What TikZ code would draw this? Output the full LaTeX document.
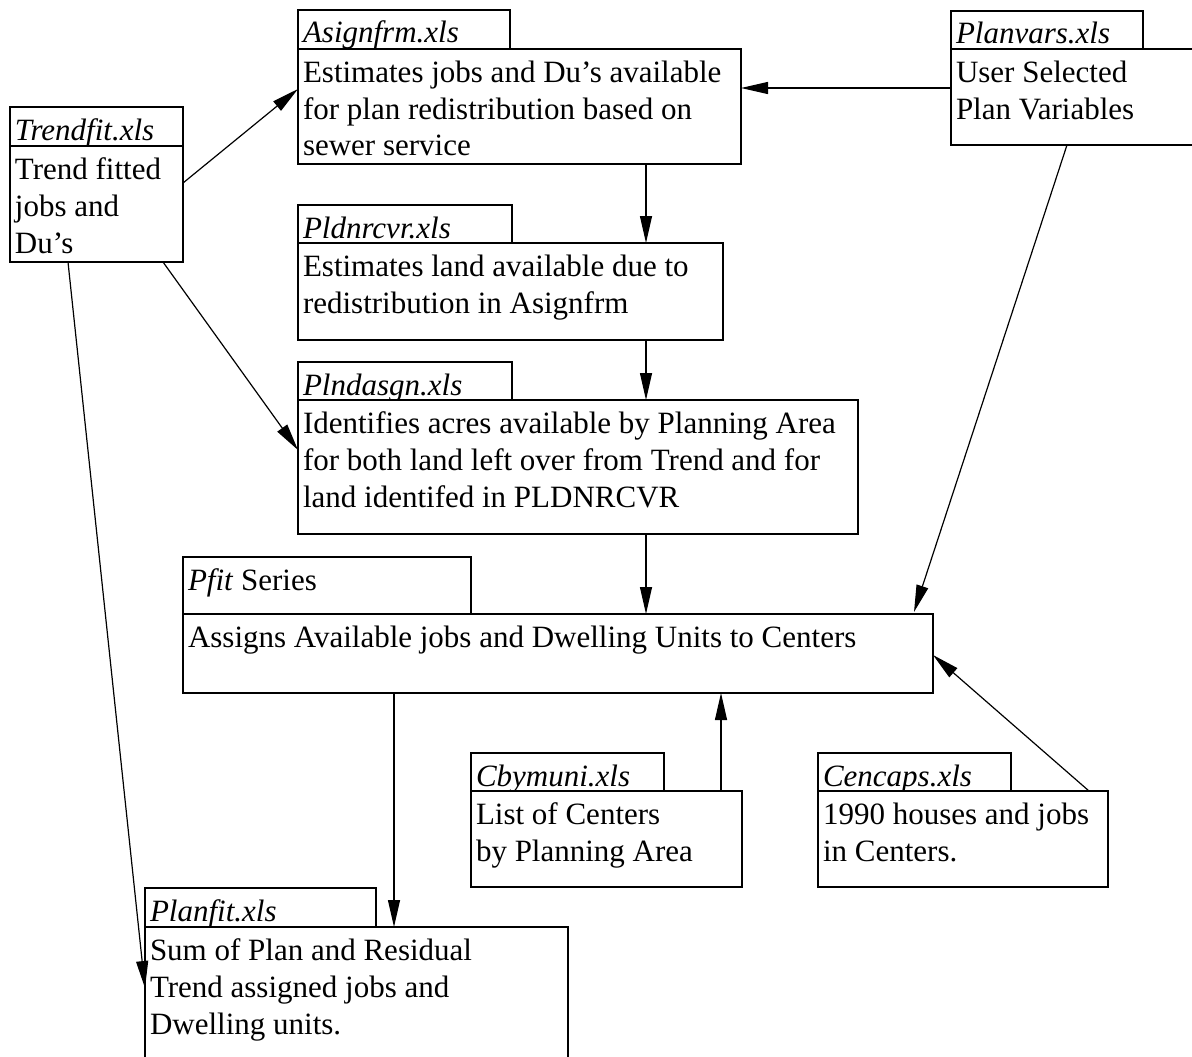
\documentclass[tikz,border=0pt]{standalone}
\usepackage{fontspec}
\setmainfont{Liberation Serif}
\usetikzlibrary{arrows.meta}
\usetikzlibrary{calc}
\tikzstyle{line} = [draw,
-{Triangle[length=27pt,width=12pt]},
line width=1.2pt]
\newcommand{\boxtext}[4][33pt]{\parbox[c][#3][t]{#2}{\raggedright\rule{0pt}{#1}#4}}

\begin{document}
\begin{tikzpicture}[x=1pt, y=-1pt,
		every node/.style={font=\fontsize{31}{37}\selectfont},
		tab/.style={draw, line width=1.2pt, anchor=north west,
			inner xsep=5pt, inner ysep=0pt, outer sep=0pt},
		body/.style={tab, fill=white}]
		\useasboundingbox (0,0) rectangle (1192,1057);
		%% Files
		\node [tab] (trendtab) at (10,107) {\boxtext{163pt}{39pt}{\textit{Trendfit.xls}}};
		\node [body] (trend) at (trendtab.south west) {\boxtext{163pt}{116pt}{Trend fitted\\jobs and\\Du's}};
		\node [tab] (asgntab) at (298,10) {\boxtext{202pt}{39pt}{\textit{Asignfrm.xls}}};
		\node [body] (asgn) at (asgntab.south west) {\boxtext{433pt}{115pt}{Estimates jobs and Du's available\\for plan redistribution based on\\sewer service}};
		\node [tab] (pvarstab) at (951,11) {\boxtext{182pt}{38pt}{\textit{Planvars.xls}}};
		\node [body] (pvars) at (pvarstab.south west) {\boxtext{239pt}{96pt}{User Selected\\Plan Variables}};
		\node [tab] (pldntab) at (298,205) {\boxtext{204pt}{38pt}{\textit{Pldnrcvr.xls}}};
		\node [body] (pldn) at (pldntab.south west) {\boxtext{415pt}{97pt}{Estimates land available due to\\redistribution in Asignfrm}};
		\node [tab] (plndtab) at (298,362) {\boxtext{204pt}{38pt}{\textit{Plndasgn.xls}}};
		\node [body] (plnd) at (plndtab.south west) {\boxtext{550pt}{134pt}{Identifies acres available by Planning Area\\for both land left over from Trend and for\\land identifed in PLDNRCVR}};
		\node [tab] (pfittab) at (183,557) {\boxtext{278pt}{57pt}{\textit{Pfit} Series}};
		\node [body] (pfit) at (pfittab.south west) {\boxtext{740pt}{79pt}{Assigns Available jobs and Dwelling Units to Centers}};
		\node [tab] (cbytab) at (471,753) {\boxtext{183pt}{38pt}{\textit{Cbymuni.xls}}};
		\node [body] (cby) at (cbytab.south west) {\boxtext{261pt}{96pt}{List of Centers\\by Planning Area}};
		\node [tab] (cenctab) at (818,753) {\boxtext{183pt}{38pt}{\textit{Cencaps.xls}}};
		\node [body] (cenc) at (cenctab.south west) {\boxtext{280pt}{96pt}{1990 houses and jobs\\in Centers.}};
		\node [tab] (planfittab) at (145,888) {\boxtext{221pt}{39pt}{\textit{Planfit.xls}}};
		\node [body] (planfit) at (planfittab.south west) {\boxtext{413pt}{150pt}{Sum of Plan and Residual\\Trend assigned jobs and\\Dwelling units.}};
		%% Flows
		\path [line] ($(trend.north east)+(0,37)$) to ($(asgn.north west)+(0,40)$);
		\path [line] ($(pvars.north west)+(0,39)$) to ($(asgn.north east)+(0,39)$);
		\path [line] ($(asgn.south west)+(348,0)$) to ($(pldn.north west)+(348,0)$);
		\path [line] ($(pldn.south west)+(348,0)$) to ($(plnd.north west)+(348,0)$);
		\path [line] ($(trend.south west)+(153,0)$) to ($(plnd.north west)+(0,50)$);
		\path [line] ($(trend.south west)+(58,0)$) to ($(planfit.north west)+(0,61)$);
		\path [line] ($(plnd.south west)+(348,0)$) to ($(pfit.north west)+(463,0)$);
		\path [line] ($(pvars.south west)+(116,0)$) to ($(pfit.north west)+(731,-2)$);
		\path [line] ($(cenc.north west)+(271,0)$) to ($(pfit.north east)+(0,41)$);
		\path [line] ($(cby.north west)+(250,0)$) to ($(pfit.south west)+(538,0)$);
		\path [line] ($(pfit.south west)+(211,0)$) to ($(planfit.north west)+(249,0)$);
	\end{tikzpicture}
\end{document}
